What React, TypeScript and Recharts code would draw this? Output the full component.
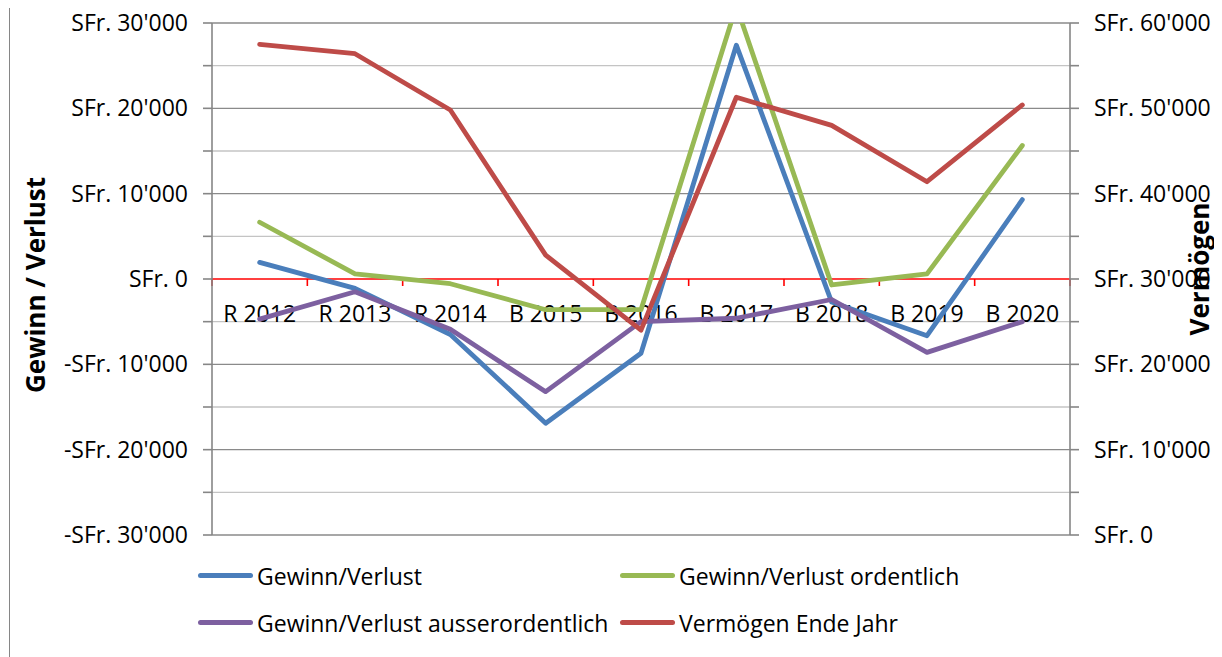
import { LineChart, Line, XAxis, YAxis, CartesianGrid, ReferenceLine, Label } from 'recharts'

const FONT = "'Open Sans', 'Noto Sans', sans-serif"

const CATEGORIES = ['R 2012', 'R 2013', 'R 2014', 'B 2015', 'B 2016', 'B 2017', 'B 2018', 'B 2019', 'B 2020']
const GEWINN = [1950, -1100, -6500, -16900, -8700, 27400, -2700, -6650, 9300]
const ORDENTLICH = [6650, 600, -550, -3600, -3600, 32000, -700, 600, 15650]
const AUSSERORDENTLICH = [-4700, -1500, -5900, -13200, -5000, -4600, -2400, -8600, -5000]
const VERMOEGEN = [57500, 56400, 49800, 32800, 24000, 51300, 48000, 41400, 50400]

const LEFT_TICKS = [-30000, -25000, -20000, -15000, -10000, -5000, 0, 5000, 10000, 15000, 20000, 25000, 30000]
const RIGHT_TICKS = [0, 5000, 10000, 15000, 20000, 25000, 30000, 35000, 40000, 45000, 50000, 55000, 60000]

const SERIES = [
  { key: 'gewinn', name: 'Gewinn/Verlust', color: '#4A7EBB', axis: 'left' },
  { key: 'ordentlich', name: 'Gewinn/Verlust ordentlich', color: '#98B954', axis: 'left' },
  { key: 'ausser', name: 'Gewinn/Verlust ausserordentlich', color: '#7D60A0', axis: 'left' },
  { key: 'vermoegen', name: 'Vermögen Ende Jahr', color: '#BE4B48', axis: 'right' },
]

const data = CATEGORIES.map((cat, i) => ({
  cat,
  gewinn: GEWINN[i],
  ordentlich: ORDENTLICH[i],
  ausser: AUSSERORDENTLICH[i],
  vermoegen: VERMOEGEN[i],
}))

const AXIS_GREY = '#868686'

function sfr(v: number) {
  const s = Math.abs(v).toString().replace(/\B(?=(\d{3})+(?!\d))/g, "'")
  return (v < 0 ? '-SFr. ' : 'SFr. ') + s
}
const everyOther = (v: number) => (v % 10000 === 0 ? sfr(v) : '')

// grid: darker lines at 10'000 steps, lighter ones in between
function gridLine(p: any) {
  const idx = Math.round((p.y1 - p.y) / (p.height / 12))
  if (idx === 6) return <g key={p.key} />
  const major = idx % 2 === 0
  return <line key={p.key} x1={p.x1} x2={p.x2} y1={p.y1} y2={p.y2} stroke={major ? '#8a8a8a' : '#c4c4c4'} strokeWidth={1.3} />
}

// red category axis sitting on zero, with labels underneath
function zeroAxis(p: any) {
  const { x1, x2, y1 } = p
  const n = CATEGORIES.length
  const band = (x2 - x1) / n
  return (
    <g>
      <line x1={x1} x2={x2} y1={y1} y2={y1} stroke="#FF0000" strokeWidth={1.6} />
      {Array.from({ length: n + 1 }, (_, i) => (
        <line key={'t' + i} x1={x1 + i * band} x2={x1 + i * band} y1={y1} y2={y1 + 7} stroke="#FF0000" strokeWidth={1.6} />
      ))}
      {CATEGORIES.map((c, i) => (
        <text key={c} x={x1 + (i + 0.5) * band} y={y1 + 34} textAnchor="middle" dominantBaseline="central"
          fontSize={23} fontFamily={FONT} fill="#000">{c}</text>
      ))}
    </g>
  )
}

function leftTitle(p: any) {
  const vb = p.viewBox
  const cx = 25, cy = vb.y + vb.height / 2 + 6
  return (
    <text x={cx} y={cy} transform={`rotate(-90 ${cx} ${cy})`} textAnchor="middle" dominantBaseline="central"
      fontSize={26} fontWeight={700} fontFamily={FONT} fill="#000">Gewinn / Verlust</text>
  )
}

function rightTitle(p: any) {
  const vb = p.viewBox
  const cx = 1189, cy = vb.y + vb.height / 2 - 10
  return (
    <text x={cx} y={cy} transform={`rotate(-90 ${cx} ${cy})`} textAnchor="middle" dominantBaseline="central"
      fontSize={26} fontWeight={700} fontFamily={FONT} fill="#000">Vermögen</text>
  )
}

const tickStyle = { fill: '#000', fontSize: 23, fontFamily: FONT }

export default function App() {
  return (
    <div style={{
      position: 'relative', width: 1206, height: 700, margin: '-1px 0 0 1px',
      border: `1px solid ${AXIS_GREY}`, background: '#fff', fontFamily: FONT,
    }}>
      <div style={{ position: 'absolute', left: 0, top: -10 }}>
        <LineChart width={1206} height={570} data={data} margin={{ top: 25, right: 0, bottom: 33, left: 12 }}>
          <CartesianGrid yAxisId="left" vertical={false} horizontal={gridLine} />
          <XAxis dataKey="cat" scale="band" hide />
          <YAxis yAxisId="left" domain={[-30000, 30000]} ticks={LEFT_TICKS} allowDataOverflow interval={0}
            width={190} tickFormatter={everyOther} tick={tickStyle} tickSize={9} tickMargin={15}
            axisLine={{ stroke: AXIS_GREY, strokeWidth: 1.6 }} tickLine={{ stroke: AXIS_GREY, strokeWidth: 1.6 }}>
            <Label content={leftTitle} />
          </YAxis>
          <YAxis yAxisId="right" orientation="right" domain={[0, 60000]} ticks={RIGHT_TICKS} allowDataOverflow interval={0}
            width={146} tickFormatter={everyOther} tick={{ ...tickStyle, textAnchor: 'start' }} tickSize={9} tickMargin={15}
            axisLine={{ stroke: AXIS_GREY, strokeWidth: 1.6 }} tickLine={{ stroke: AXIS_GREY, strokeWidth: 1.6 }}>
            <Label content={rightTitle} />
          </YAxis>
          <ReferenceLine yAxisId="left" y={0} shape={zeroAxis} />
          {SERIES.map(s => (
            <Line key={s.key} yAxisId={s.axis} dataKey={s.key} name={s.name} type="linear" stroke={s.color}
              strokeWidth={4.8} strokeLinejoin="round" strokeLinecap="round" dot={false} activeDot={false}
              isAnimationActive={false} />
          ))}
        </LineChart>
      </div>

      {/* Legend */}
      <div style={{
        position: 'absolute', left: 188, top: 551, display: 'grid',
        gridTemplateColumns: '422px auto', rowGap: 14, fontSize: 23, color: '#000',
      }}>
        {SERIES.map(s => (
          <div key={s.key} style={{ display: 'flex', alignItems: 'center', height: 33 }}>
            <span style={{ display: 'inline-block', width: 55, height: 5, borderRadius: 3, background: s.color, marginRight: 4 }} />
            <span>{s.name}</span>
          </div>
        ))}
      </div>
    </div>
  )
}
